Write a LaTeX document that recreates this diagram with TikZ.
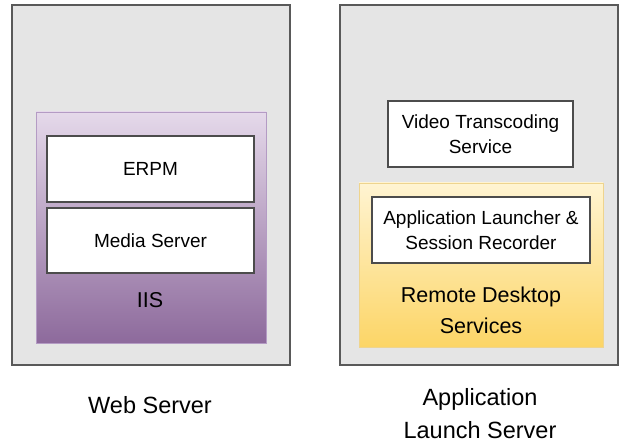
\documentclass[tikz,border=0pt]{standalone}
\usepackage{fontspec}
\setmainfont{Liberation Sans}
\usepackage{tikz}
\tikzset{
  srvbox/.style = {rectangle, draw=black!65, line width=1.2pt, fill=black!10, inner sep=0pt, minimum width=278pt, minimum height=360pt},
  iisbox/.style = {rectangle, draw=iisline, line width=0.9pt, top color=iistop, bottom color=iisbot, inner sep=0pt},
  rdsbox/.style = {rectangle, draw=rdsline, line width=0.9pt, top color=rdstop, bottom color=rdsbot, inner sep=0pt},
  compbox/.style = {rectangle, draw=black!70, line width=1.3pt, fill=white, inner sep=0pt, align=center, font=\fontsize{19}{25}\selectfont},
  boxlabel/.style = {align=center, inner sep=0pt, font=\fontsize{21.5}{31}\selectfont},
  srvlabel/.style = {align=center, inner sep=0pt, font=\fontsize{23.5}{33}\selectfont}
}
\definecolor{iistop}{HTML}{E5D9EA}
\definecolor{iisbot}{HTML}{8D6A9C}
\definecolor{iisline}{HTML}{B49BC4}
\definecolor{rdstop}{HTML}{FFF4D2}
\definecolor{rdsbot}{HTML}{FCD566}
\definecolor{rdsline}{HTML}{EED48E}
\begin{document}
\begin{tikzpicture}[x=1pt, y=-1pt]
    \useasboundingbox (0,0) rectangle (622,443);
    \node[srvbox] (web) at (151,185) {};
    \node[iisbox, minimum width=230pt, minimum height=231pt] (iis) at (151,227.5) {};
    \node[compbox, minimum width=207pt, minimum height=66pt] (erpm) at (150.5,169) {ERPM};
    \node[compbox, minimum width=207pt, minimum height=65pt] (media) at (150.5,240.5) {Media Server};
    \node[boxlabel] (iislbl) at (150,300) {IIS};
    \node[srvlabel] (weblbl) at (150,405) {Web Server};

    \node[srvbox] (app) at (479,185) {};
    \node[compbox, minimum width=185pt, minimum height=66pt] (video) at (480.5,134) {Video Transcoding\\Service};
    \node[rdsbox, minimum width=244pt, minimum height=164pt] (rds) at (481,265) {};
    \node[compbox, minimum width=218pt, minimum height=66pt] (launcher) at (481,230) {Application Launcher \&\\Session Recorder};
    \node[boxlabel] (rdslbl) at (481,310.5) {Remote Desktop\\Services};
    \node[srvlabel] (applbl) at (480,413.5) {Application\\Launch Server};
\end{tikzpicture}
\end{document}
